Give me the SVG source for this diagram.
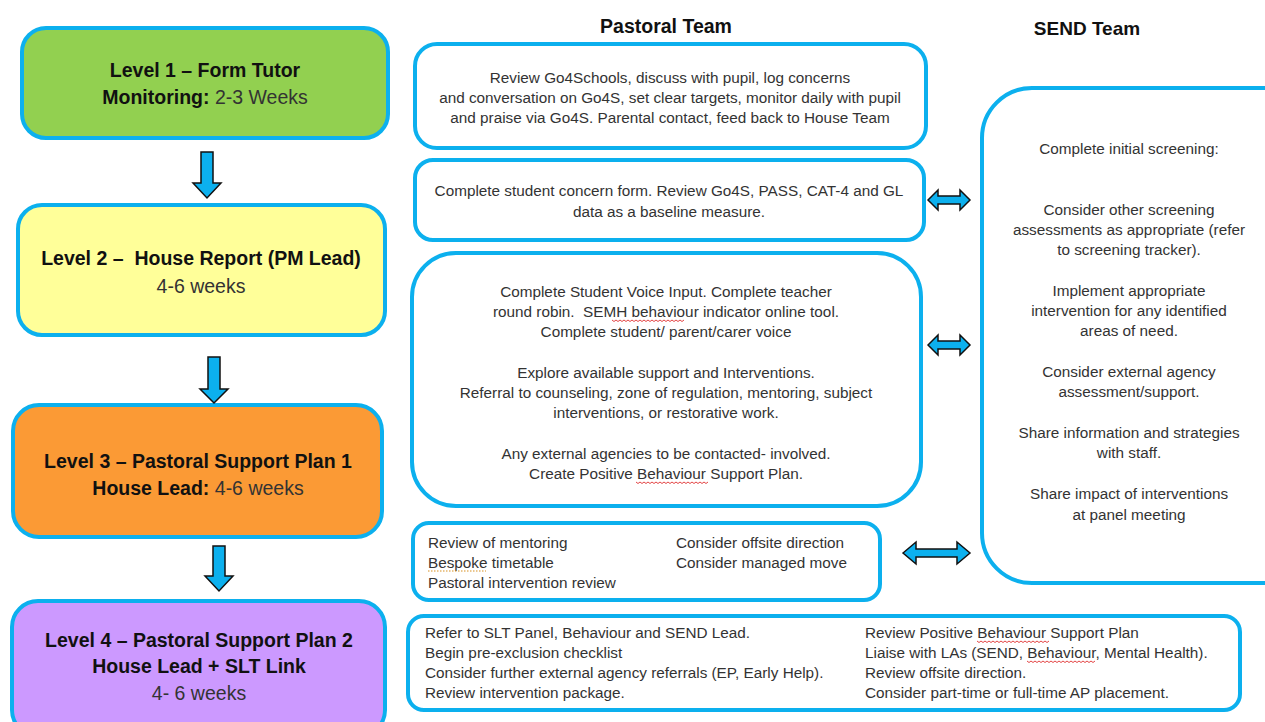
<svg xmlns="http://www.w3.org/2000/svg" width="1265" height="722" viewBox="0 0 1265 722">
<style>
.box{stroke:#0cb0ee;stroke-width:4;}
.wb{fill:#ffffff;stroke:#0cb0ee;stroke-width:4;}
.ttl{font-family:"Liberation Sans",Arial,sans-serif;font-size:19.5px;font-weight:bold;fill:#111;text-anchor:middle;}
.sub{font-weight:normal;fill:#333;}
.hdr{font-family:"Liberation Sans",Arial,sans-serif;font-size:19.5px;font-weight:bold;fill:#111;text-anchor:middle;}
.t{font-family:"Liberation Sans",Arial,sans-serif;font-size:15.3px;fill:#333;}
.c{text-anchor:middle;}
.arr{fill:#0cb0ee;stroke:#111;stroke-width:1.5;stroke-linejoin:miter;}
.sq{fill:none;stroke:#e03030;stroke-width:0.9;}
.sqo{fill:none;stroke:#d89020;stroke-width:1.2;stroke-dasharray:1.5 1.5;}
</style>
<rect width="1265" height="722" fill="#ffffff"/>

<g id="headers">
<text class="hdr" x="666" y="33">Pastoral Team</text>
<text class="hdr" x="1087" y="35" style="font-size:19px">SEND Team</text>
</g>

<g id="level1">
<rect class="box" x="22" y="28" width="366" height="110" rx="24" fill="#92d050"/>
<text class="ttl" x="205" y="77">Level 1 – Form Tutor</text>
<text class="ttl" x="205" y="104">Monitoring: <tspan class="sub">2-3 Weeks</tspan></text>
</g>
<g id="level2">
<rect class="box" x="18" y="205" width="367" height="130" rx="24" fill="#ffff99"/>
<text class="ttl" x="201" y="265" xml:space="preserve">Level 2 –  House Report (PM Lead)</text>
<text class="ttl sub" x="201" y="293">4-6 weeks</text>
</g>
<g id="level3">
<rect class="box" x="13" y="405" width="369" height="132" rx="26" fill="#fb9a35"/>
<text class="ttl" x="198" y="468">Level 3 – Pastoral Support Plan 1</text>
<text class="ttl" x="198" y="495">House Lead: <tspan class="sub">4-6 weeks</tspan></text>
</g>
<g id="level4">
<rect class="box" x="12" y="601" width="373" height="135" rx="26" fill="#cc99ff"/>
<text class="ttl" x="199" y="647">Level 4 – Pastoral Support Plan 2</text>
<text class="ttl" x="199" y="673">House Lead + SLT Link</text>
<text class="ttl sub" x="199" y="700">4- 6 weeks</text>
</g>

<g id="pastoral1">
<rect class="wb" x="415" y="44" width="511" height="104" rx="22"/>
<text class="t c" x="670" y="83">Review Go4Schools, discuss with pupil, log concerns</text>
<text class="t c" x="670" y="103">and conversation on Go4S, set clear targets, monitor daily with pupil</text>
<text class="t c" x="670" y="123">and praise via Go4S. Parental contact, feed back to House Team</text>
</g>
<g id="pastoral2">
<rect class="wb" x="415" y="160" width="509" height="80" rx="18"/>
<text class="t c" x="669" y="196">Complete student concern form. Review Go4S, PASS, CAT-4 and GL</text>
<text class="t c" x="669" y="217">data as a baseline measure.</text>
</g>
<g id="pastoral3">
<rect class="wb" x="412" y="253" width="509" height="253" rx="44"/>
<text class="t c" x="666" y="297">Complete Student Voice Input. Complete teacher</text>
<text class="t c" x="666" y="317" xml:space="preserve">round robin.  SEMH behaviour indicator online tool.</text>
<text class="t c" x="666" y="337">Complete student/ parent/carer voice</text>
<text class="t c" x="666" y="378">Explore available support and Interventions.</text>
<text class="t c" x="666" y="398">Referral to counseling, zone of regulation, mentoring, subject</text>
<text class="t c" x="666" y="418">interventions, or restorative work.</text>
<text class="t c" x="666" y="459">Any external agencies to be contacted- involved.</text>
<text class="t c" x="666" y="479">Create Positive Behaviour Support Plan.</text>
<path class="sq" d="M612,320 l2,1.5 l2,-1.5 l2,1.5 l2,-1.5 l2,1.5 l2,-1.5 l2,1.5 l2,-1.5 l2,1.5 l2,-1.5 l2,1.5 l2,-1.5 l2,1.5 l2,-1.5 l2,1.5 l2,-1.5 l2,1.5 l2,-1.5 l2,1.5 l2,-1.5 l2,1.5 l2,-1.5 l2,1.5 l2,-1.5 l2,1.5 l2,-1.5 l2,1.5 l2,-1.5 l2,1.5 l2,-1.5 l2,1.5 l2,-1.5 l2,1.5 l2,-1.5 l2,1.5 l2,-1.5"/>
<path class="sq" d="M636,482 l2,1.5 l2,-1.5 l2,1.5 l2,-1.5 l2,1.5 l2,-1.5 l2,1.5 l2,-1.5 l2,1.5 l2,-1.5 l2,1.5 l2,-1.5 l2,1.5 l2,-1.5 l2,1.5 l2,-1.5 l2,1.5 l2,-1.5 l2,1.5 l2,-1.5 l2,1.5 l2,-1.5 l2,1.5 l2,-1.5 l2,1.5 l2,-1.5 l2,1.5 l2,-1.5 l2,1.5 l2,-1.5 l2,1.5 l2,-1.5 l2,1.5 l2,-1.5 l2,1.5 l2,-1.5"/>
</g>
<g id="pastoral4">
<rect class="wb" x="413" y="523" width="467" height="77" rx="16"/>
<text class="t" x="428" y="548">Review of mentoring</text>
<text class="t" x="428" y="568">Bespoke timetable</text>
<text class="t" x="428" y="588">Pastoral intervention review</text>
<text class="t" x="676" y="548">Consider offsite direction</text>
<text class="t" x="676" y="568">Consider managed move</text>
<path class="sqo" d="M428,571 H486"/>
</g>
<g id="pastoral5">
<rect class="wb" x="408" y="616" width="832" height="94" rx="16"/>
<text class="t" x="425" y="638">Refer to SLT Panel, Behaviour and SEND Lead.</text>
<text class="t" x="425" y="658">Begin pre-exclusion checklist</text>
<text class="t" x="425" y="678">Consider further external agency referrals (EP, Early Help).</text>
<text class="t" x="425" y="698">Review intervention package.</text>
<text class="t" x="865" y="638">Review Positive Behaviour Support Plan</text>
<text class="t" x="865" y="658">Liaise with LAs (SEND, Behaviour, Mental Health).</text>
<text class="t" x="865" y="678">Review offsite direction.</text>
<text class="t" x="865" y="698">Consider part-time or full-time AP placement.</text>
<path class="sq" d="M977,641 l2,1.5 l2,-1.5 l2,1.5 l2,-1.5 l2,1.5 l2,-1.5 l2,1.5 l2,-1.5 l2,1.5 l2,-1.5 l2,1.5 l2,-1.5 l2,1.5 l2,-1.5 l2,1.5 l2,-1.5 l2,1.5 l2,-1.5 l2,1.5 l2,-1.5 l2,1.5 l2,-1.5 l2,1.5 l2,-1.5 l2,1.5 l2,-1.5 l2,1.5 l2,-1.5 l2,1.5 l2,-1.5 l2,1.5 l2,-1.5 l2,1.5 l2,-1.5 l2,1.5 l2,-1.5"/>
<path class="sq" d="M1027,661 l2,1.5 l2,-1.5 l2,1.5 l2,-1.5 l2,1.5 l2,-1.5 l2,1.5 l2,-1.5 l2,1.5 l2,-1.5 l2,1.5 l2,-1.5 l2,1.5 l2,-1.5 l2,1.5 l2,-1.5 l2,1.5 l2,-1.5 l2,1.5 l2,-1.5 l2,1.5 l2,-1.5 l2,1.5 l2,-1.5 l2,1.5 l2,-1.5 l2,1.5 l2,-1.5 l2,1.5 l2,-1.5 l2,1.5 l2,-1.5 l2,1.5 l2,-1.5"/>
</g>
<g id="send">
<rect class="wb" x="982" y="88" width="330" height="495" rx="50"/>
<text class="t c" x="1129" y="154">Complete initial screening:</text>
<text class="t c" x="1129" y="215">Consider other screening</text>
<text class="t c" x="1129" y="235">assessments as appropriate (refer</text>
<text class="t c" x="1129" y="255">to screening tracker).</text>
<text class="t c" x="1129" y="296">Implement appropriate</text>
<text class="t c" x="1129" y="316">intervention for any identified</text>
<text class="t c" x="1129" y="336">areas of need.</text>
<text class="t c" x="1129" y="377">Consider external agency</text>
<text class="t c" x="1129" y="397">assessment/support.</text>
<text class="t c" x="1129" y="438">Share information and strategies</text>
<text class="t c" x="1129" y="458">with staff.</text>
<text class="t c" x="1129" y="499">Share impact of interventions</text>
<text class="t c" x="1129" y="520">at panel meeting</text>
</g>

<g id="connectors">
<path class="arr" d="M201,152 H213 V183 H221 L207,198 L193,183 H201 Z"/>
<path class="arr" d="M208,357 H220 V389 H228 L214,403 L200,389 H208 Z"/>
<path class="arr" d="M213,546 H225 V576 H233 L219,591 L205,576 H213 Z"/>
<path class="arr" d="M928,200 L938,190 V196 H960 V190 L970,200 L960,210 V204 H938 V210 Z"/>
<path class="arr" d="M928,345 L938,335 V341 H960 V335 L970,345 L960,355 V349 H938 V355 Z"/>
<path class="arr" d="M903,553 L916,542 V549 H957 V542 L970,553 L957,564 V557 H916 V564 Z"/>
</g>
</svg>
